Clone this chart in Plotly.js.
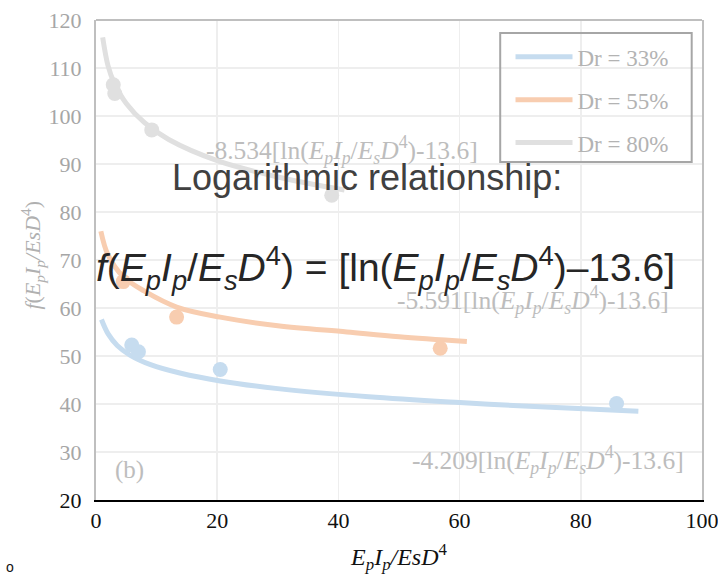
<!DOCTYPE html>
<html>
<head>
<meta charset="utf-8">
<script src="https://cdn.plot.ly/plotly-3.0.1.min.js"></script>
<style>html,body{margin:0;padding:0;background:#fff;}#chart{width:718px;height:578px;}</style>
</head>
<body>
<div id="chart"></div>
<script>
// Measured points
const dr33_x = [5.9, 7.0, 20.5, 85.9];
const dr33_y = [52.3, 50.9, 47.2, 40.1];
const dr55_x = [4.5, 13.3, 56.8];
const dr55_y = [65.5, 58.1, 51.6];
const dr80_x = [2.85, 3.1, 9.2, 38.9];
const dr80_y = [106.5, 104.7, 97.1, 83.5];

// Trend lines
const fit33_x = [0.9, 2, 3.5, 5.6, 9, 14, 20.5, 30, 45, 60, 75, 89.5];
const fit33_y = [57.6, 54.6, 52.2, 50.2, 48.2, 46.4, 44.8, 43.2, 41.5, 40.3, 39.3, 38.5];
const fit55_x = [0.8, 2, 4.5, 8, 13.3, 20.5, 30, 41.4, 50, 61.2];
const fit55_y = [76.0, 71.0, 66.5, 63.5, 60.2, 58.1, 56.3, 55.0, 54.0, 53.0];
const fit80_x = [1.1, 2, 3, 5, 8, 12, 20, 30, 41];
const fit80_y = [116.4, 110.4, 106.9, 102.6, 98.6, 95.1, 90.7, 87.3, 84.6];

const seriesNames = ['Dr = 33%', 'Dr = 55%', 'Dr = 80%'];
const seriesColors = ['#c6dcef', '#f8cdb0', '#e0e0e0'];

const yTickVals = [20, 30, 40, 50, 60, 70, 80, 90, 100, 110, 120];
const yTickText = ['<span style="color:#111">20</span>', '30', '40', '50', '60', '70', '80', '90', '100', '110', '120'];
const xTickVals = [0, 20, 40, 60, 80, 100];

const fitsX = [fit33_x, fit55_x, fit80_x];
const fitsY = [fit33_y, fit55_y, fit80_y];
const ptsX = [dr33_x, dr55_x, dr80_x];
const ptsY = [dr33_y, dr55_y, dr80_y];

const traces = [];
for (let i = 0; i < 3; i++) {
  traces.push({
    x: fitsX[i], y: fitsY[i], type: 'scatter', mode: 'lines',
    name: seriesNames[i], legendgroup: 'g' + i,
    line: {color: seriesColors[i], width: 5, shape: 'spline'},
    hoverinfo: 'skip'
  });
  traces.push({
    x: ptsX[i], y: ptsY[i], type: 'scatter', mode: 'markers',
    showlegend: false, legendgroup: 'g' + i,
    marker: {color: seriesColors[i], size: 15}
  });
}

const serif = '"Liberation Serif", "Times New Roman", Times, serif';
const sans = '"Liberation Sans", Arial, sans-serif';
const grayTxt = '#bdbdbd';
const eq = '<i>E<sub>p</sub>I<sub>p</sub></i>/<i>E<sub>s</sub>D</i><sup>4</sup>';

const layout = {
  width: 718, height: 578,
  margin: {l: 96, r: 16, t: 20, b: 78},
  paper_bgcolor: '#fff', plot_bgcolor: '#fff',
  font: {family: serif, size: 22, color: '#111'},
  showlegend: true,
  legend: {
    x: 0.684, y: 0.968, xanchor: 'left', yanchor: 'top',
    borderwidth: 0, bgcolor: 'rgba(255,255,255,0)',
    font: {family: serif, size: 23, color: '#b3b3b3'},
    traceorder: 'grouped', tracegroupgap: 10, itemwidth: 57
  },
  xaxis: {
    range: [0, 100], tickvals: xTickVals, ticks: '', showgrid: true,
    gridcolor: '#eeeeee', gridwidth: 1.5, zeroline: false,
    showline: true, linecolor: '#000', linewidth: 2,
    ticklabeloverflow: 'allow',
    tickfont: {family: serif, size: 22, color: '#111'},
    title: {text: '<i>E<sub>p</sub>I<sub>p</sub>/EsD</i><sup>4</sup>', font: {family: serif, size: 24, color: '#111'}, standoff: 16}
  },
  yaxis: {
    range: [20, 120], tickvals: yTickVals, ticktext: yTickText, ticks: '',
    ticklabelstandoff: 8,
    showgrid: true, gridcolor: '#eeeeee', gridwidth: 1.5, zeroline: false,
    showline: true, linecolor: '#bfbfbf', linewidth: 2, mirror: true,
    tickfont: {family: serif, size: 22, color: '#a6a6a6'}
  },
  shapes: [
    {type: 'line', xref: 'paper', yref: 'paper', x0: 0, x1: 1, y0: 1, y1: 1, line: {color: '#bfbfbf', width: 2}},
    {type: 'rect', xref: 'paper', yref: 'paper', x0: 0.667, x1: 0.983, y0: 0.704, y1: 0.973, line: {color: '#a6a6a6', width: 2}}
  ],
  annotations: [
    {xref: 'paper', yref: 'paper', x: -0.105, y: 0.51, xanchor: 'center', yanchor: 'middle', textangle: -90, text: '<i>f</i>(<i>E<sub>p</sub>I<sub>p</sub>/EsD</i><sup>4</sup>)', showarrow: false, font: {family: serif, size: 22, color: '#b0b0b0'}},
    {xref: 'x', yref: 'y', x: 40.6, y: 92.9, text: '-8.534[ln(' + eq + ')-13.6]', showarrow: false, font: {family: serif, size: 25.5, color: grayTxt}},
    {xref: 'x', yref: 'y', x: 72.1, y: 61.7, text: '-5.591[ln(' + eq + ')-13.6]', showarrow: false, font: {family: serif, size: 25.5, color: grayTxt}},
    {xref: 'x', yref: 'y', x: 74.6, y: 28.3, text: '-4.209[ln(' + eq + ')-13.6]', showarrow: false, font: {family: serif, size: 25.5, color: grayTxt}},
    {xref: 'x', yref: 'y', x: 5.6, y: 26.3, text: '(b)', showarrow: false, font: {family: serif, size: 25, color: grayTxt}},
    {xref: 'x', yref: 'y', x: 44.7, y: 87.1, text: 'Logarithmic relationship:', showarrow: false, font: {family: sans, size: 36, color: '#404040'}},
    {xref: 'x', yref: 'y', x: 47.8, y: 68.3, text: '<i>f</i>(<i>E<sub>p</sub>I<sub>p</sub></i>/<i>E<sub>s</sub>D</i><sup>4</sup>) = [ln(<i>E<sub>p</sub>I<sub>p</sub></i>/<i>E<sub>s</sub>D</i><sup>4</sup>)–13.6]', showarrow: false, font: {family: sans, size: 39, color: '#262626'}},
    {xref: 'paper', yref: 'paper', x: -0.152, y: -0.16, text: 'o', showarrow: false, font: {family: sans, size: 14, color: '#111'}}
  ]
};

Plotly.newPlot('chart', traces, layout, {displayModeBar: false, staticPlot: true});
</script>
</body>
</html>
